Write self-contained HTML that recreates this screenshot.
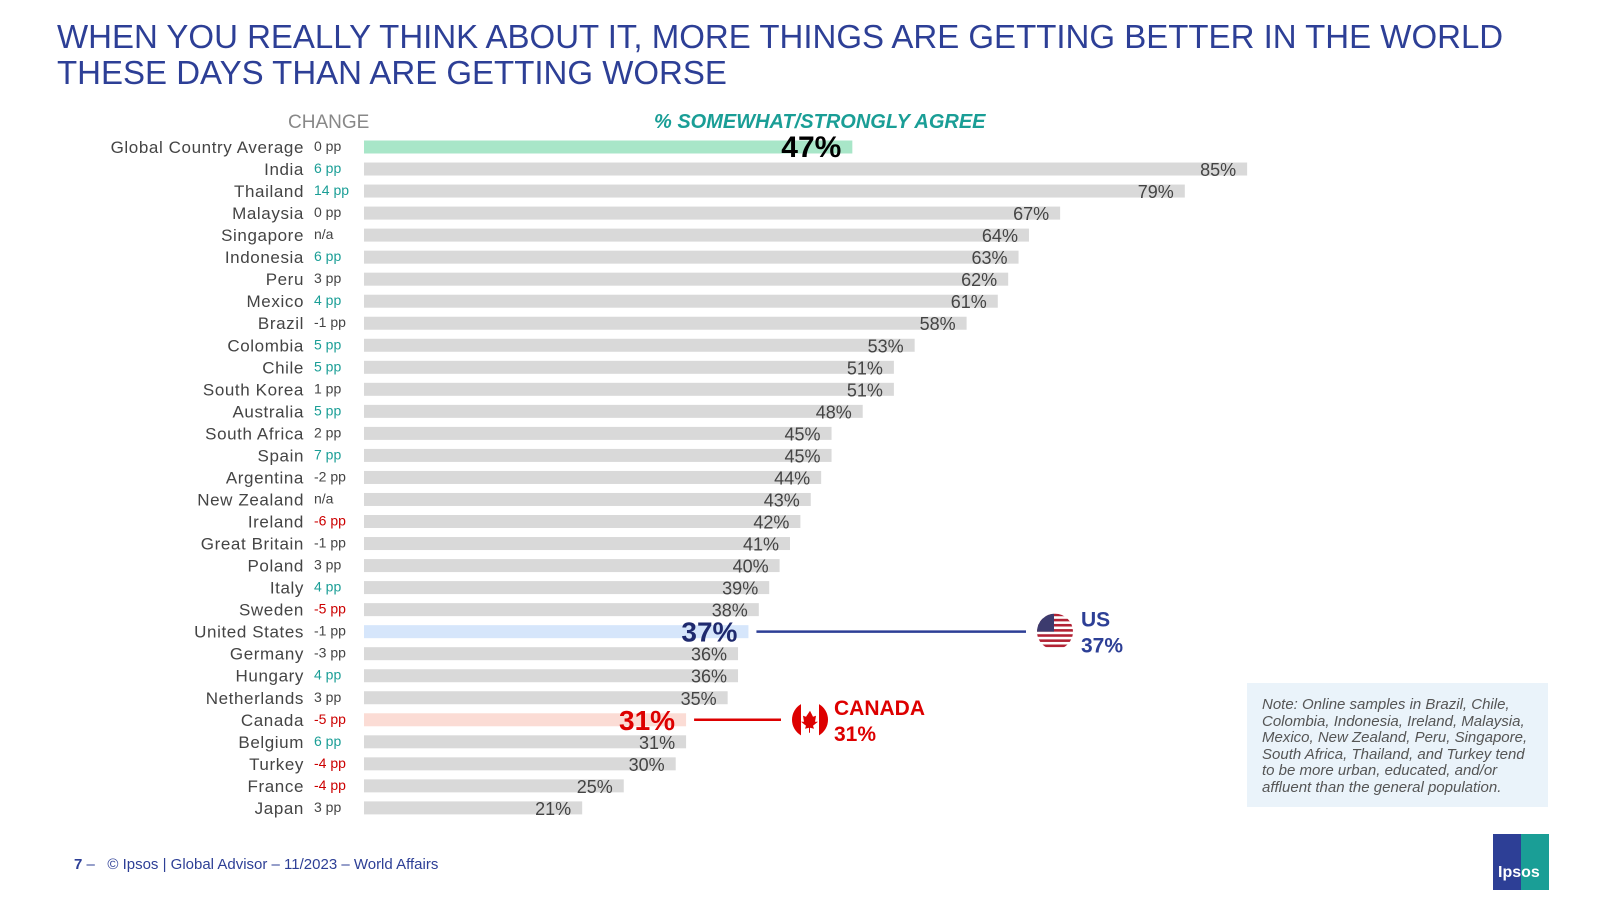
<!DOCTYPE html>
<html><head><meta charset="utf-8"><style>
body{margin:0;width:1600px;height:900px;background:#fff;font-family:"Liberation Sans",sans-serif;position:relative;overflow:hidden}
.t{position:absolute;white-space:nowrap}
</style></head><body>
<div class="t" style="left:57px;top:19px;font-size:33px;line-height:36px;color:#2d3f96">WHEN YOU REALLY THINK ABOUT IT, MORE THINGS ARE GETTING BETTER IN THE WORLD<br>THESE DAYS THAN ARE GETTING WORSE</div>
<div class="t" style="left:288px;top:112px;font-size:19px;color:#888">CHANGE</div>
<div class="t" style="left:654px;top:111px;font-size:20px;color:#1a9e96;font-weight:bold;font-style:italic">% SOMEWHAT/STRONGLY AGREE</div>
<svg id="chart" width="1600" height="900" style="position:absolute;left:0;top:0"></svg>
<div class="t" style="left:1247px;top:683px;width:301px;height:124px;background:#eaf3fa"></div>
<div class="t" style="left:1262px;top:697px;font-size:15px;line-height:16.5px;color:#555;font-style:italic">Note: Online samples in Brazil, Chile,<br>Colombia, Indonesia, Ireland, Malaysia,<br>Mexico, New Zealand, Peru, Singapore,<br>South Africa, Thailand, and Turkey tend<br>to be more urban, educated, and/or<br>affluent than the general population.</div>
<div class="t" style="left:74px;top:856px;font-size:15px;color:#2d3f96"><b>7</b> –&nbsp;&nbsp; © Ipsos | Global Advisor – 11/2023 – World Affairs</div>
<div class="t" style="left:1493px;top:834px;width:56px;height:56px;background:linear-gradient(90deg,#2d3f96 50%,#1a9e96 50%)"><div style="position:absolute;left:5px;top:30px;color:#fff;font-weight:bold;font-size:16px">Ipsos</div></div>
<script>
const countries=["Global Country Average","India","Thailand","Malaysia","Singapore","Indonesia","Peru","Mexico","Brazil","Colombia","Chile","South Korea","Australia","South Africa","Spain","Argentina","New Zealand","Ireland","Great Britain","Poland","Italy","Sweden","United States","Germany","Hungary","Netherlands","Canada","Belgium","Turkey","France","Japan"];
const values=[47,85,79,67,64,63,62,61,58,53,51,51,48,45,45,44,43,42,41,40,39,38,37,36,36,35,31,31,30,25,21];
const changes=["0 pp","6 pp","14 pp","0 pp","n/a","6 pp","3 pp","4 pp","-1 pp","5 pp","5 pp","1 pp","5 pp","2 pp","7 pp","-2 pp","n/a","-6 pp","-1 pp","3 pp","4 pp","-5 pp","-1 pp","-3 pp","4 pp","3 pp","-5 pp","6 pp","-4 pp","-4 pp","3 pp"];
const svg=document.getElementById('chart');const NS="http://www.w3.org/2000/svg";
const x0=364,k=10.39,y0=147,pitch=22.03,bh=13;
const xs=v=>x0+v*k, ys=i=>y0+i*pitch;
function mk(t,a,txt){const e=document.createElementNS(NS,t);for(const n in a)e.setAttribute(n,a[n]);if(txt!=null)e.textContent=txt;svg.appendChild(e);return e;}
countries.forEach((c,i)=>{
 const y=ys(i);
 let fill='#d9d9d9',lc='#444',fw='normal',fs=18;
 if(i===0){fill='#a8e6c8';lc='#000';fw='bold';fs=30}
 else if(c==='United States'){fill='#d6e6fb';lc='#1f2a6e';fw='bold';fs=28}
 else if(c==='Canada'){fill='#fbdcd5';lc='#d00';fw='bold';fs=28}
 const r=mk('rect',{x:x0,y:y-bh/2,width:xs(values[i])-x0,height:bh,fill:fill});
 
 
 const n=mk('text',{x:304,y:y+6,'text-anchor':'end','font-size':17,'letter-spacing':'0.6',fill:'#444'},c);
 
 
 const ch=changes[i];const num=parseInt(ch);
 let cc='#444';if(!isNaN(num)){if(num>=4)cc='#1a9e96';else if(num<=-4)cc='#c00';}
 const t=mk('text',{x:314,y:y+4,'font-size':14,fill:cc},ch);
 
 
 const v=mk('text',{x:xs(values[i])-11,y:y+(fs>20?10:7),'text-anchor':'end','font-size':fs,'font-weight':fw,fill:lc},values[i]+'%');
 
 
});
const usI=countries.indexOf('United States'),caI=countries.indexOf('Canada');
let l=mk('line',{x1:xs(values[usI])+8,x2:1026,y1:ys(usI),y2:ys(usI),stroke:'#2d3f96','stroke-width':2.5});


const cx=1055;
const cp=document.createElementNS(NS,'clipPath');cp.id='uc';const cc1=document.createElementNS(NS,'circle');cc1.setAttribute('cx',cx);cc1.setAttribute('cy',ys(usI));cc1.setAttribute('r',18);cp.appendChild(cc1);svg.appendChild(cp);
const us=mk('g',{});
us.setAttribute('clip-path','url(#uc)');
const bg=document.createElementNS(NS,'rect');bg.setAttribute('x',cx-18);bg.setAttribute('y',ys(usI)-18);bg.setAttribute('width',36);bg.setAttribute('height',36);bg.setAttribute('fill','#fff');us.appendChild(bg);
for(let s=0;s<7;s++){const e=document.createElementNS(NS,'rect');e.setAttribute('x',cx-18);e.setAttribute('y',ys(usI)-18+s*36/7);e.setAttribute('width',36);e.setAttribute('height',36/14);e.setAttribute('fill','#b22234');us.appendChild(e);}
const cant=document.createElementNS(NS,'rect');cant.setAttribute('x',cx-18);cant.setAttribute('y',ys(usI)-18);cant.setAttribute('width',17);cant.setAttribute('height',18);cant.setAttribute('fill','#3c3b6e');us.appendChild(cant);
let t1=mk('text',{x:1081,y:ys(usI)-5,'font-size':21,'font-weight':'bold',fill:'#2d3f96'},'US');
let t2=mk('text',{x:1081,y:ys(usI)+21,'font-size':21,'font-weight':'bold',fill:'#2d3f96'},values[usI]+'%');
l=mk('line',{x1:xs(values[caI])+8,x2:781,y1:ys(caI),y2:ys(caI),stroke:'#d00','stroke-width':2.5});


const fx=810,fy=ys(caI);
let f=mk('circle',{cx:fx,cy:fy,r:18,fill:'#fff'});
mk('path',{d:`M${fx-18} ${fy} a18 18 0 0 1 9 -15.6 v31.2 a18 18 0 0 1 -9 -15.6z M${fx+18} ${fy} a18 18 0 0 0 -9 -15.6 v31.2 a18 18 0 0 0 9 -15.6z`,fill:'#d00'});
mk('path',{d:`M${fx} ${fy-9} l3 6 3 -1 -1 6 3 0 -5 4 1 3 -4 -1 0 5 -1 0 0 -5 -4 1 1 -3 -5 -4 3 0 -1 -6 3 1z`,fill:'#d00'});
t1=mk('text',{x:834,y:fy-5,'font-size':21,'font-weight':'bold',fill:'#d00'},'CANADA');
t2=mk('text',{x:834,y:fy+21,'font-size':21,'font-weight':'bold',fill:'#d00'},values[caI]+'%');
</script>
</body></html>
